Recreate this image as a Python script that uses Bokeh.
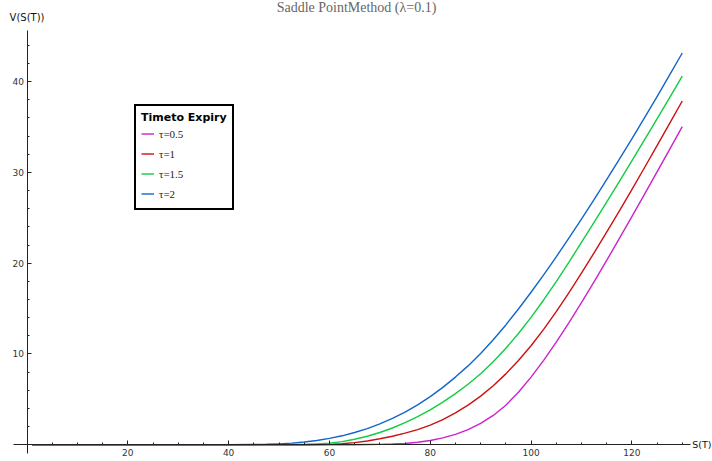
from bokeh.plotting import figure
from bokeh.models import FixedTicker, Label, Legend, LegendItem, Range1d
from bokeh.embed import file_html
from bokeh.resources import INLINE

title_text = "Saddle PointMethod (λ=0.1)"
x_label = "S(T)"
y_label = "V(S(T))"
legend_title = "Timeto Expiry"
series_labels = ["τ=0.5", "τ=1", "τ=1.5", "τ=2"]
series_colors = ["#cc22cc", "#cc1111", "#11cc44", "#1166cc"]

s_values = [1, 40, 45, 47.5, 50, 52.5, 55, 57.5, 60, 62.5, 65, 67.5, 70, 72.5, 75, 77.5,
            80, 82.5, 85, 87.5, 90, 92.5, 95, 97.5, 100, 102.5, 105, 107.5, 110, 112.5,
            115, 117.5, 120, 122.5, 125, 127.5, 130]
v_tau_05 = [0, 0, 0, 0, 0, 0, 0, 0, 0, 0.003, 0.01, 0.024, 0.05, 0.082, 0.15, 0.277,
            0.475, 0.758, 1.15, 1.667, 2.35, 3.231, 4.35, 5.784, 7.45, 9.297, 11.3, 13.425, 15.65, 17.945,
            20.3, 22.695, 25.125, 27.578, 30.05, 32.535, 35.03]
v_tau_1 = [0, 0, 0, 0, 0, 0.003, 0.01, 0.025, 0.05, 0.121, 0.24, 0.423, 0.66, 0.941, 1.28, 1.674,
           2.16, 2.774, 3.51, 4.366, 5.36, 6.507, 7.81, 9.279, 10.91, 12.713, 14.66, 16.738, 18.91, 21.132,
           23.41, 25.739, 28.11, 30.511, 32.94, 35.39, 37.86]
v_tau_15 = [0, 0, 0, 0.003, 0.01, 0.024, 0.05, 0.091, 0.18, 0.354, 0.605, 0.939, 1.355, 1.85, 2.43, 3.099,
            3.855, 4.694, 5.63, 6.666, 7.83, 9.155, 10.63, 12.258, 14.03, 15.949, 17.98, 20.099, 22.28, 24.489,
            26.73, 28.994, 31.28, 33.58, 35.9, 38.24, 40.6]
v_tau_2 = [0, 0.005, 0.03, 0.052, 0.105, 0.18, 0.305, 0.474, 0.705, 0.99, 1.355, 1.786, 2.305, 2.908, 3.605, 4.40,
           5.305, 6.324, 7.455, 8.69, 10.055, 11.565, 13.2, 14.953, 16.8, 18.715, 20.7, 22.75, 24.855, 27.006,
           29.2, 31.44, 33.7, 36.015, 38.35, 40.74, 43.15]
series_values = [v_tau_05, v_tau_1, v_tau_15, v_tau_2]

x_major_ticks = [20, 40, 60, 80, 100, 120]
x_minor_ticks = [v for v in range(5, 135, 5) if v % 20 != 0]
y_major_ticks = [10, 20, 30, 40]
y_minor_ticks = [v for v in range(2, 46, 2) if v % 10 != 0]

# view window (whole canvas is the frame) and axis extents
x_view = (-5.26, 136.0)
y_view = (-1.84, 48.93)
x_axis_bounds = (-2.74, 131.6)
y_axis_bounds = (-0.96, 45.63)

p = figure(width=712, height=461, output_backend="svg", toolbar_location=None,
           x_range=Range1d(*x_view), y_range=Range1d(*y_view),
           min_border_left=0, min_border_right=0, min_border_top=0, min_border_bottom=0)
p.title.visible = False
p.outline_line_color = None
p.grid.visible = False
p.background_fill_color = "white"
p.border_fill_color = "white"

for ax in (p.xaxis, p.yaxis):
    ax.fixed_location = 0
    ax.axis_line_color = "#222222"
    ax.axis_line_width = 1
    ax.major_tick_line_color = "#222222"
    ax.minor_tick_line_color = "#222222"
    ax.major_tick_in = 4
    ax.major_tick_out = 0
    ax.minor_tick_in = 2
    ax.minor_tick_out = 0
    ax.major_label_text_font = "DejaVu Sans"
    ax.major_label_text_font_size = "9px"
    ax.major_label_text_color = "#333333"

p.xaxis.bounds = x_axis_bounds
p.yaxis.bounds = y_axis_bounds
p.xaxis.ticker = FixedTicker(ticks=x_major_ticks, minor_ticks=x_minor_ticks)
p.yaxis.ticker = FixedTicker(ticks=y_major_ticks, minor_ticks=y_minor_ticks)
p.xaxis.major_label_standoff = 4
p.yaxis.major_label_standoff = 3
p.yaxis.major_label_text_align = "right"

renderers = []
for vals, col in zip(series_values, series_colors):
    r = p.line(s_values, vals, line_color=col, line_width=1.4, line_join="round")
    renderers.append(r)

legend = Legend(
    items=[LegendItem(label=lab, renderers=[r]) for lab, r in zip(series_labels, renderers)],
    location=(134, 251), title=legend_title,
    title_text_font="DejaVu Sans", title_text_font_size="11px", title_text_font_style="bold",
    title_text_color="black", title_standoff=0,
    label_text_font="Liberation Serif", label_text_font_size="11px", label_text_color="#222222",
    glyph_width=13, glyph_height=19, label_height=19, spacing=1, padding=5, margin=0,
    label_standoff=5, border_line_color="black", border_line_width=2, border_line_alpha=1.0,
    background_fill_color="white", background_fill_alpha=1.0,
)
p.add_layout(legend)

p.add_layout(Label(x=(x_view[0] + x_view[1]) / 2, y=y_view[1], text=title_text,
                   text_align="center", text_baseline="middle", y_offset=-7,
                   text_font="Liberation Serif", text_font_size="14px", text_color="#666666"))
p.add_layout(Label(x=0, y=y_axis_bounds[1], text=y_label, text_align="center", text_baseline="middle",
                   y_offset=13, text_font="DejaVu Sans", text_font_size="10px", text_color="#111111"))
p.add_layout(Label(x=x_axis_bounds[1], y=0, text=x_label, text_align="left", text_baseline="middle",
                   x_offset=2, text_font="DejaVu Sans", text_font_size="9.5px", text_color="#111111"))

open("out.html", "w").write(file_html(p, INLINE))
